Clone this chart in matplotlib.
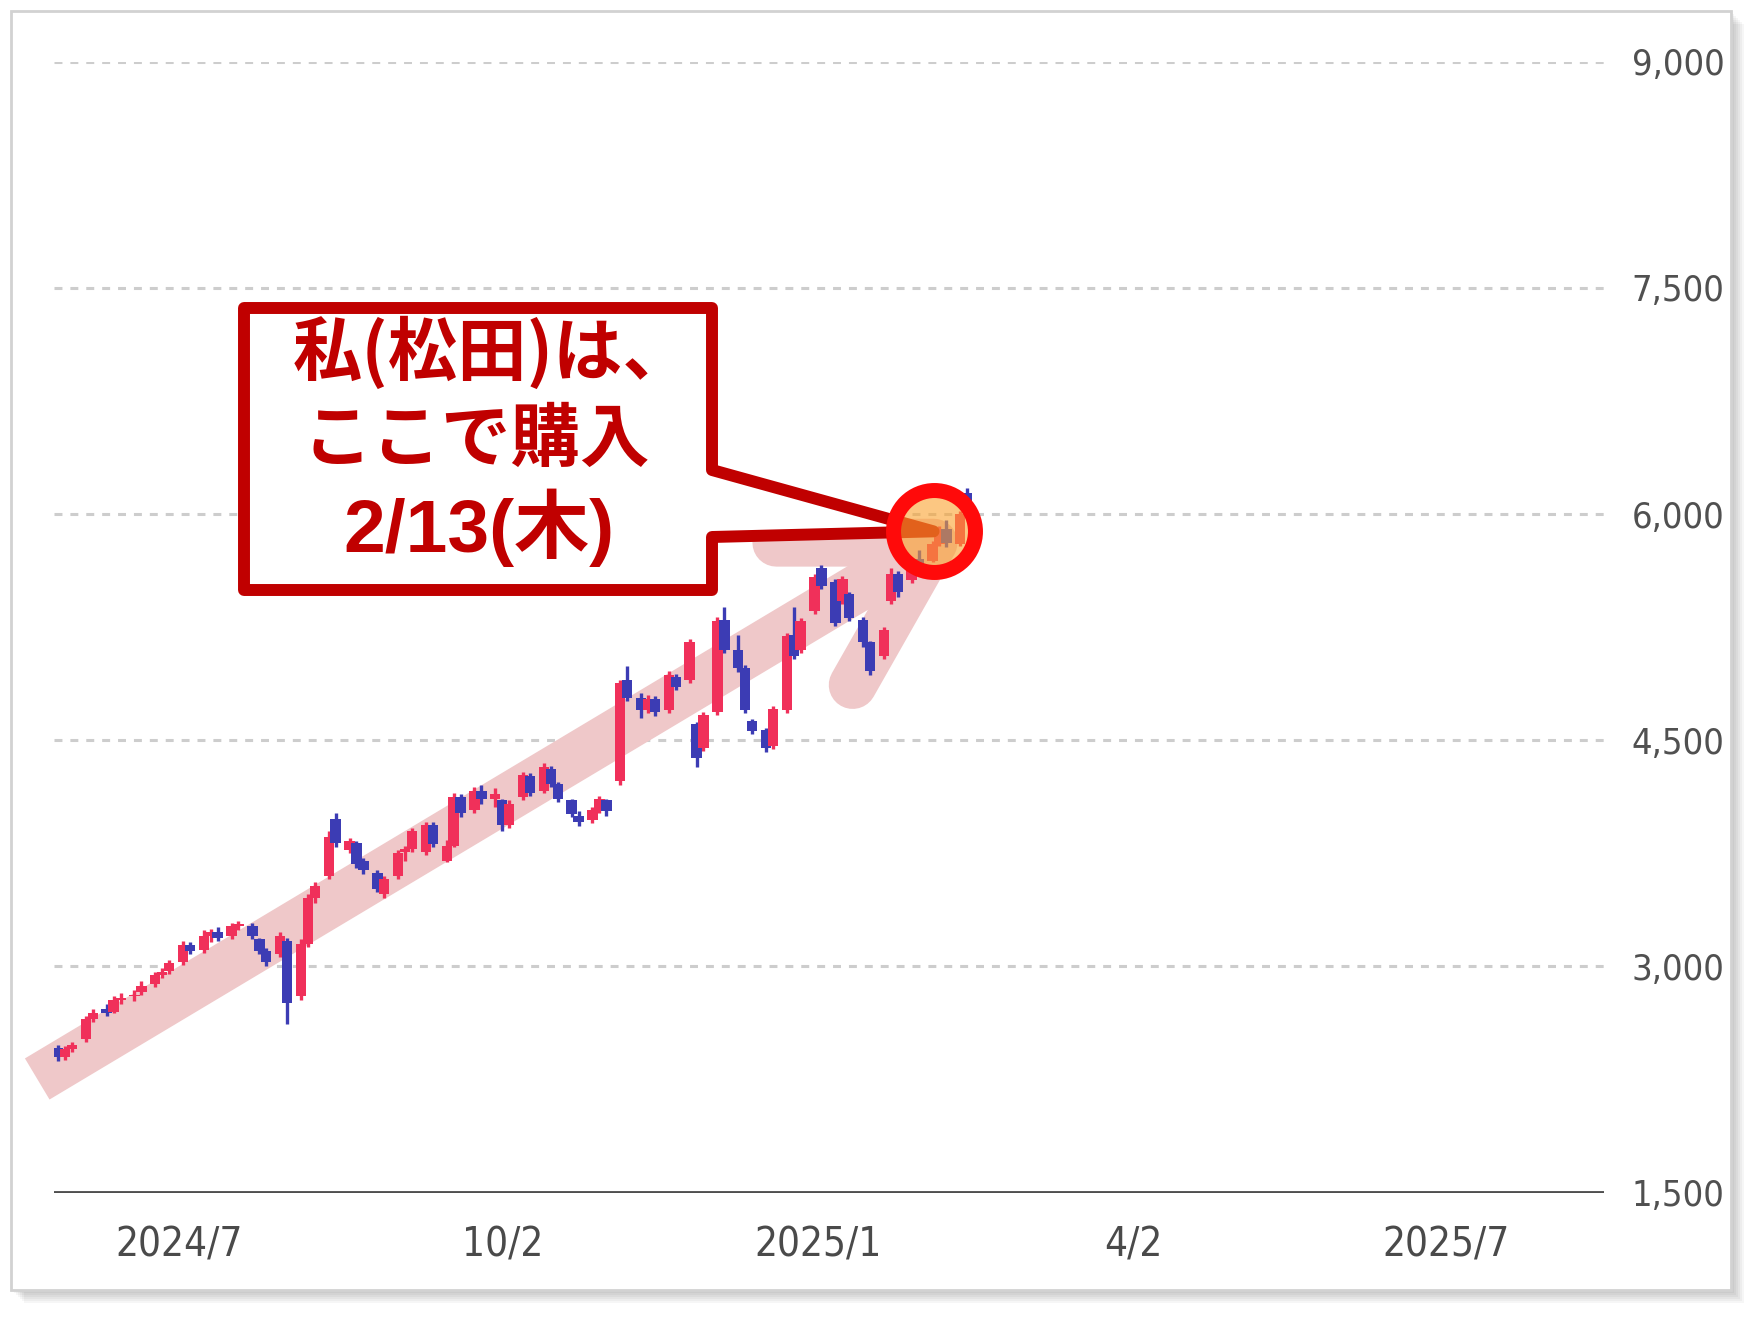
"""Candlestick chart with the 'bought here on 2/13' callout."""

import matplotlib

matplotlib.use("Agg")

import matplotlib.dates as mdates
import matplotlib.pyplot as plt
import matplotlib.transforms as mtransforms
import pandas as pd
from matplotlib import font_manager
from matplotlib.patches import Polygon, Rectangle

W, H = 1759, 1319

# one candle every second trading day, 2024-05-27 .. 2025-02-13
candle_dates = pd.bdate_range("2024-05-27", "2025-02-13", freq="2B")

opens = [
    2460, 2400, 2450, 2520, 2650, 2720, 2700, 2780, 2800, 2830,
    2880, 2940, 2970, 3030, 3140, 3110, 3200, 3230, 3200, 3270,
    3270, 3180, 3100, 3080, 3170, 2800, 3150, 3450, 3600, 3980,
    3770, 3820, 3700, 3620, 3480, 3600, 3760, 3780, 3760, 3940,
    3700, 3800, 4120, 4040, 4160, 4110, 4100, 3940, 4120, 4260,
    4160, 4310, 4210, 4100, 4000, 3970, 4040, 4100, 4230, 4900,
    4780, 4700, 4770, 4700, 4920, 4900, 4610, 4450, 4690, 5300,
    5100, 4980, 4630, 4570, 4460, 4700, 5200, 5100, 5360, 5640,
    5550, 5420, 5470, 5300, 5150, 5060, 5420, 5600, 5560, 5700,
    5690, 5800, 5900, 5800, 6140,
]
highs = [
    2480, 2470, 2500, 2670, 2720, 2750, 2800, 2820, 2840, 2900,
    2960, 2990, 3040, 3170, 3160, 3240, 3250, 3260, 3290, 3300,
    3290, 3190, 3120, 3230, 3190, 3180, 3480, 3560, 3900, 4015,
    3850, 3830, 3720, 3640, 3600, 3770, 3800, 3920, 3960, 3960,
    3840, 4150, 4140, 4190, 4200, 4180, 4110, 4100, 4290, 4280,
    4350, 4330, 4220, 4110, 4030, 4060, 4130, 4110, 4900, 4990,
    4810, 4800, 4790, 4960, 4940, 5170, 4620, 4690, 5320, 5380,
    5200, 5000, 4640, 4580, 4730, 5210, 5380, 5310, 5600, 5660,
    5570, 5590, 5480, 5320, 5160, 5250, 5640, 5620, 5700, 5760,
    5820, 5920, 5960, 6020, 6170,
]
lows = [
    2370, 2380, 2430, 2500, 2630, 2670, 2690, 2750, 2770, 2810,
    2860, 2920, 2950, 3010, 3080, 3090, 3160, 3170, 3180, 3240,
    3180, 3080, 3000, 3060, 2620, 2780, 3130, 3420, 3580, 3790,
    3750, 3650, 3610, 3490, 3450, 3580, 3700, 3760, 3740, 3790,
    3690, 3790, 3990, 4020, 4080, 4060, 3900, 3920, 4100, 4130,
    4150, 4190, 4090, 3990, 3930, 3950, 4020, 4000, 4200, 4760,
    4650, 4680, 4660, 4680, 4830, 4880, 4320, 4430, 4670, 5080,
    4950, 4680, 4540, 4420, 4440, 4680, 5040, 5080, 5340, 5500,
    5260, 5400, 5290, 5120, 4930, 5040, 5400, 5450, 5540, 5650,
    5680, 5790, 5780, 5790, 6050,
]
closes = [
    2400, 2450, 2480, 2650, 2690, 2690, 2780, 2790, 2810, 2870,
    2940, 2960, 3020, 3140, 3100, 3200, 3230, 3190, 3270, 3280,
    3200, 3100, 3030, 3200, 2760, 3150, 3450, 3530, 3860, 3820,
    3830, 3680, 3640, 3510, 3580, 3750, 3780, 3900, 3940, 3810,
    3800, 4120, 4020, 4160, 4110, 4140, 3940, 4080, 4270, 4150,
    4320, 4210, 4110, 4010, 3960, 4040, 4110, 4030, 4880, 4780,
    4700, 4770, 4690, 4930, 4850, 5150, 4380, 4670, 5290, 5100,
    4980, 4700, 4560, 4450, 4710, 5190, 5060, 5290, 5580, 5520,
    5280, 5570, 5310, 5150, 4960, 5230, 5600, 5480, 5680, 5670,
    5800, 5900, 5810, 6000, 6080,
]

price_ticks = [1500, 3000, 4500, 6000, 7500, 9000]
date_ticks = ["2024-07-01", "2024-10-02", "2025-01-01", "2025-04-02", "2025-07-01"]
date_labels = ["2024/7", "10/2", "2025/1", "4/2", "2025/7"]

callout_lines = ["私(松田)は、", "ここで購入", "2/13(木)"]

# highlighted point and the pink trend arrow (data coordinates)
circle_date, circle_price = pd.Timestamp("2025-02-03 07:00"), 5885
arrow_tail = (pd.Timestamp("2024-05-21"), 2253)
arrow_tip = (pd.Timestamp("2025-02-03 07:00"), 5810)
arrow_barb_left = (pd.Timestamp("2024-12-20"), 5810)
arrow_barb_low = (pd.Timestamp("2025-01-11"), 4866)

UP = "#f0305a"
DOWN = "#3c3cb4"
CALLOUT = "#c00000"


def label_font(size):
    """Prefer a narrow sans for the tick labels, like the screenshot."""
    for f in font_manager.fontManager.ttflist:
        fname = f.fname.lower()
        if ("narrow" in fname or "condensed" in fname) and "sans" in fname \
                and "bold" not in fname and "oblique" not in fname \
                and "italic" not in fname:
            return font_manager.FontProperties(fname=f.fname, size=size)
    return font_manager.FontProperties(family="Liberation Sans", size=size - 2)


def main() -> None:
    fig = plt.figure(figsize=(W / 100, H / 100), dpi=100)
    fig.patch.set_facecolor("white")
    px = mtransforms.Affine2D().scale(1 / W, -1 / H).translate(0, 1) + fig.transFigure

    # card with a soft drop shadow
    for k in range(3, 15, 2):
        fig.patches.append(Rectangle((11 + k, 11 + k), 1720, 1279, transform=px,
                                     facecolor="black", edgecolor="none",
                                     alpha=0.035, zorder=-10))
    fig.patches.append(Rectangle((11, 11), 1720, 1279, transform=px,
                                 facecolor="white", edgecolor="#d2d2d2",
                                 linewidth=2, zorder=-9))

    ax = fig.add_axes([54 / W, (H - 1192.5) / H, 1550 / W, (1192.5 - 61.7) / H])
    ax.patch.set_alpha(0)
    for spine in ax.spines.values():
        spine.set_visible(False)

    for y in price_ticks[1:]:
        ax.axhline(y, color="#cdcdcd", lw=2.2, dashes=(2.6, 2.6), zorder=0)
    ax.axhline(price_ticks[0], color="#4f4f4f", lw=3.5, zorder=1)

    # pink trend arrow underneath the candles
    ax.plot([arrow_tail[0], arrow_tip[0]], [arrow_tail[1], arrow_tip[1]],
            color="#efc8c9", lw=34.5, solid_capstyle="butt", zorder=1, clip_on=False)
    ax.plot([arrow_barb_left[0], arrow_tip[0], arrow_barb_low[0]],
            [arrow_barb_left[1], arrow_tip[1], arrow_barb_low[1]],
            color="#efc8c9", lw=34.5, solid_capstyle="round",
            solid_joinstyle="round", zorder=1, clip_on=False)

    colors = [UP if c >= o else DOWN for o, c in zip(opens, closes)]
    ax.vlines(candle_dates, lows, highs, colors=colors, lw=2.4, zorder=2)
    ax.bar(candle_dates, [c - o for o, c in zip(opens, closes)], bottom=opens,
           width=3.0, color=colors, zorder=3)

    ax.set_xlim(pd.Timestamp("2024-05-25 20:00"), pd.Timestamp("2025-08-15 12:00"))
    ax.set_ylim(1500, 9000)

    ax.yaxis.tick_right()
    ax.set_yticks(price_ticks)
    ax.set_yticklabels([f"{p:,}" for p in price_ticks])
    ax.set_xticks([pd.Timestamp(d) for d in date_ticks])
    ax.set_xticklabels(date_labels)
    ax.tick_params(axis="y", length=0, pad=20, labelcolor="#505050")
    ax.tick_params(axis="x", length=0, pad=24, labelcolor="#4a4a4a")
    for lab in ax.get_yticklabels():
        lab.set_fontproperties(label_font(26))
    for lab in ax.get_xticklabels():
        lab.set_fontproperties(label_font(29))

    # callout box pointing at the purchase point
    tx, ty = ax.transData.transform((mdates.date2num(circle_date), circle_price))
    tip = (tx, H - ty)
    box = [(244, 308), (712, 308), (712, 470), tip, (712, 537),
           (712, 590), (244, 590)]
    ax.add_patch(Polygon(box, closed=True, transform=px, facecolor="white",
                         edgecolor=CALLOUT, lw=8.6, joinstyle="round",
                         zorder=5, clip_on=False))
    text_x = [493, 476, 479]
    text_y = [353, 441, 528]
    sizes = [50, 50, 54]
    families = [["Noto Sans CJK JP"], ["Noto Sans CJK JP"],
                ["Liberation Sans", "Noto Sans CJK JP"]]
    for line, x, y, size, fam in zip(callout_lines, text_x, text_y, sizes, families):
        ax.text(x, y, line, transform=px, ha="center", va="center",
                fontsize=size, fontweight="bold", color=CALLOUT,
                family=fam, zorder=6, clip_on=False)

    ax.plot([circle_date], [circle_price], marker="o", ms=59,
            mfc=(250 / 255, 163 / 255, 47 / 255, 0.6), mec="#ff0a0a", mew=10.8,
            zorder=7, clip_on=False)

    fig.savefig("out.png", dpi=100, facecolor="white")
    plt.close(fig)


if __name__ == "__main__":
    main()
